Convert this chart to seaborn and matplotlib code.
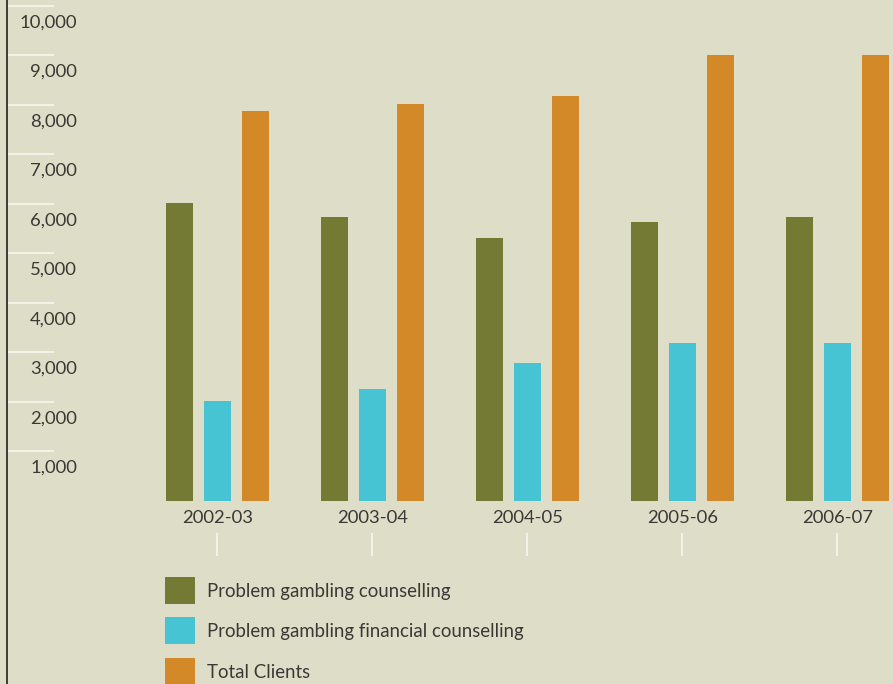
import numpy as np
import pandas as pd
import matplotlib
matplotlib.use("Agg")
import matplotlib.pyplot as plt
import matplotlib.transforms as mtransforms
from matplotlib.patches import Rectangle
from matplotlib.legend_handler import HandlerPatch
import seaborn as sns

# ---- data ----
years = ["2002-03", "2003-04", "2004-05", "2005-06", "2006-07"]
series = ["Problem gambling counselling",
          "Problem gambling financial counselling",
          "Total Clients"]
counselling = [6010, 5740, 5310, 5630, 5740]
financial = [2010, 2250, 2790, 3180, 3190]
total = [7870, 8010, 8180, 9000, 9000]
ytick_values = [1000, 2000, 3000, 4000, 5000, 6000, 7000, 8000, 9000, 10000]
ytick_labels = ["1,000", "2,000", "3,000", "4,000", "5,000",
                "6,000", "7,000", "8,000", "9,000", "10,000"]

colors = ["#747a34", "#46c4d4", "#d38928"]
bg = "#dedec8"
txt = "#3b3835"

df = pd.DataFrame({
    "year": years * 3,
    "series": [series[0]] * 5 + [series[1]] * 5 + [series[2]] * 5,
    "value": counselling + financial + total,
})

sns.set_style("white")
plt.rcParams["font.family"] = ["Lato", "DejaVu Sans"]

W, H = 893, 684
fig = plt.figure(figsize=(W / 100, H / 100), dpi=100)
fig.patch.set_facecolor(bg)
ax = fig.add_axes([7 / W, 0, (W - 7) / W, 1])
ax.set_facecolor(bg)

sns.barplot(data=df, x="year", y="value", hue="series", order=years,
            hue_order=series, palette=colors, width=0.735, gap=0.29,
            linewidth=0, saturation=1, ax=ax)

ax.set_xlim(-1.356, 4.360)
ax.set_ylim(-3703, 10115)

for s in ["top", "right"]:
    ax.spines[s].set_visible(False)
ax.spines["left"].set_color("#231f1c")
ax.spines["left"].set_linewidth(1.2)
ax.spines["bottom"].set_position(("data", 0))
ax.spines["bottom"].set_visible(False)

# y ticks: white inward lines, labels drawn beneath them
ax.set_yticks(ytick_values)
ax.set_yticklabels([])
ax.tick_params(axis="y", direction="in", length=47 * 0.72, width=1.3,
               color="#f6f5ec", left=True)
off = mtransforms.ScaledTranslation(0, -16.5 / 100, fig.dpi_scale_trans)
tr = mtransforms.blended_transform_factory(ax.transAxes, ax.transData) + off
xr = (77 - 7) / (W - 7)
for v, lab in zip(ytick_values, ytick_labels):
    ax.text(xr, v, lab, transform=tr, ha="right", va="center",
            fontsize=13.3, color=txt)

# x tick labels below zero line
ax.set_xticks(range(len(years)))
ax.set_xticklabels(years, fontsize=13.3, color=txt)
ax.tick_params(axis="x", length=0, pad=7)
ax.set_xlabel("")
ax.set_ylabel("")

# white tick marks below the labels
trx = mtransforms.blended_transform_factory(ax.transData, ax.transAxes)
ax.vlines(range(len(years)), 1 - 533 / H, 1 - 556 / H, transform=trx,
          color="#f6f5ec", linewidth=1.3)


# legend with taller swatches
class TallPatch(HandlerPatch):
    def create_artists(self, legend, orig_handle, xdescent, ydescent,
                       width, height, fontsize, trans):
        hh = 27.0 * 0.72  # points
        r = Rectangle((-xdescent, -ydescent + height / 2 - hh / 2), width, hh,
                      facecolor=orig_handle.get_facecolor(), edgecolor="none",
                      transform=trans)
        return [r]


lfs = 13.4
lpx = lfs / 0.72
handles, labels = ax.get_legend_handles_labels()
ax.legend(handles, labels, loc="upper left",
          bbox_to_anchor=(165 / W, 1 - 583 / H), bbox_transform=fig.transFigure,
          frameon=False, handlelength=30 / lpx,
          handletextpad=12 / lpx,
          labelspacing=23.5 / lpx, borderpad=0, borderaxespad=0,
          labelcolor=txt, prop={"size": lfs},
          handler_map={Rectangle: TallPatch()})

fig.savefig("out.png", dpi=100, facecolor=bg)
